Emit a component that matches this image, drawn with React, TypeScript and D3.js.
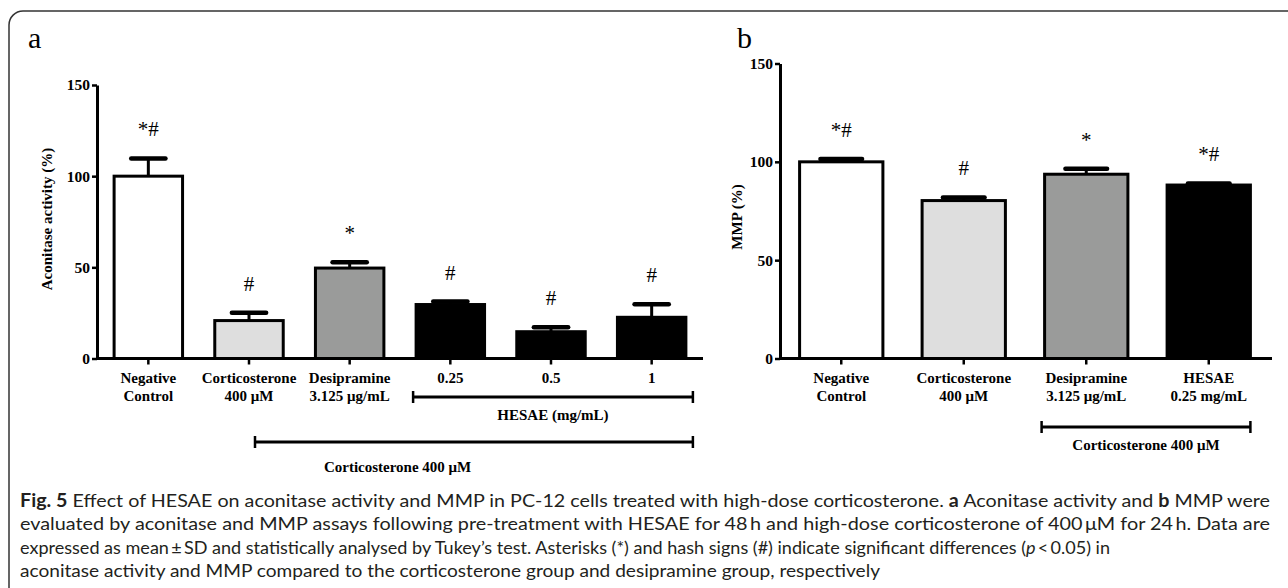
import React, { useEffect, useRef } from 'react';
import * as d3 from 'd3';

// panel a: aconitase activity
const aLabels = [['Negative', 'Control'], ['Corticosterone', '400 μM'], ['Desipramine', '3.125 μg/mL'], ['0.25'], ['0.5'], ['1']];
const aGroups = ['control', 'cort', 'desi', 'hesae', 'hesae', 'hesae'];
const aMeans = [100, 20.8, 49.6, 29.6, 14.7, 22.6];
const aSD = [9.7, 4.3, 3.2, 1.6, 2.4, 7.1];
const aSig = ['*#', '#', '*', '#', '#', '#'];

// panel b: MMP
const bLabels = [['Negative', 'Control'], ['Corticosterone', '400 μM'], ['Desipramine', '3.125 μg/mL'], ['HESAE', '0.25 mg/mL']];
const bGroups = ['control', 'cort', 'desi', 'hesae'];
const bMeans = [100, 80.3, 93.7, 88.2];
const bSD = [1.5, 1.6, 2.8, 0.8];
const bSig = ['*#', '#', '*', '*#'];

const yTicks = [0, 50, 100, 150];

const caption = [
  [{ t: 'Fig. 5', b: true }, { t: ' Effect of HESAE on aconitase activity and MMP in PC-12 cells treated with high-dose corticosterone. ' }, { t: 'a', b: true }, { t: ' Aconitase activity and ' }, { t: 'b', b: true }, { t: ' MMP were' }],
  [{ t: 'evaluated by aconitase and MMP assays following pre-treatment with HESAE for 48\u2009h and high-dose corticosterone of 400\u2009μM for 24\u2009h. Data are' }],
  [{ t: 'expressed as mean\u2009±\u2009SD and statistically analysed by Tukey’s test. Asterisks (*) and hash signs (#) indicate significant differences (' }, { t: 'p', i: true }, { t: '\u2009<\u20090.05) in' }],
  [{ t: 'aconitase activity and MMP compared to the corticosterone group and desipramine group, respectively' }],
];
const captionWidths = [1250, 1250, 1090, 860];

const serif = '"Liberation Serif", "Times New Roman", serif';
const sans = 'Lato, "Open Sans", sans-serif';

const fill = d3.scaleOrdinal<string, string>()
  .domain(['control', 'cort', 'desi', 'hesae'])
  .range(['#ffffff', '#dedede', '#9a9b9a', '#000000']);

function drawPanel(g, opts) {
  const { labels, groups, means, sds, sig, xRange, axisEnd, yRange, yAxisX } = opts;
  const cats = labels.map(l => l.join(' '));
  const x = d3.scaleBand().domain(cats).range(xRange).paddingInner(0.32).paddingOuter(0.16);
  const y = d3.scaleLinear().domain([0, 150]).range(yRange);
  const bw = x.bandwidth();

  g.selectAll('*').remove();

  // bars
  g.selectAll('.bar').data(cats).enter().append('rect')
    .attr('x', d => x(d))
    .attr('y', (d, i) => y(means[i]))
    .attr('width', bw)
    .attr('height', (d, i) => y(0) - y(means[i]))
    .attr('fill', (d, i) => fill(groups[i]))
    .attr('stroke', '#000')
    .attr('stroke-width', 3);

  // error bars (upper only)
  g.selectAll('.err').data(cats).enter().append('line')
    .attr('x1', d => x(d) + bw / 2).attr('x2', d => x(d) + bw / 2)
    .attr('y1', (d, i) => y(means[i]))
    .attr('y2', (d, i) => y(means[i] + sds[i]))
    .attr('stroke', '#000').attr('stroke-width', 3);
  g.selectAll('.cap').data(cats).enter().append('line')
    .attr('x1', d => x(d) + bw / 4).attr('x2', d => x(d) + bw * 3 / 4)
    .attr('y1', (d, i) => y(means[i] + sds[i]))
    .attr('y2', (d, i) => y(means[i] + sds[i]))
    .attr('stroke', '#000').attr('stroke-width', 4.5).attr('stroke-linecap', 'round');

  // significance marks
  g.selectAll('.sig').data(cats).enter().append('text')
    .attr('x', d => x(d) + bw / 2)
    .attr('y', (d, i) => y(means[i] + sds[i]) - 22)
    .attr('text-anchor', 'middle')
    .attr('font-family', serif)
    .attr('font-size', 21)
    .text((d, i) => sig[i]);

  // x axis
  const base = y(0);
  g.append('line')
    .attr('x1', yAxisX).attr('x2', axisEnd).attr('y1', base).attr('y2', base)
    .attr('stroke', '#000').attr('stroke-width', 3);
  const xa = g.append('g').attr('transform', `translate(0,${base})`)
    .call(d3.axisBottom(x).tickSize(6).tickSizeOuter(0).tickFormat(() => ''));
  xa.select('.domain').remove();
  xa.selectAll('.tick line').attr('stroke-width', 2.5);

  // x labels
  cats.forEach((c, i) => {
    labels[i].forEach((line, j) => {
      g.append('text')
        .attr('x', x(c) + bw / 2)
        .attr('y', base + 24 + j * 18)
        .attr('text-anchor', 'middle')
        .attr('font-family', serif)
        .attr('font-weight', 'bold')
        .attr('font-size', 15)
        .text(line);
    });
  });

  // y axis
  const ya = g.append('g').attr('transform', `translate(${yAxisX},0)`)
    .call(d3.axisLeft(y).tickValues(yTicks).tickSize(5).tickSizeOuter(0).tickPadding(2));
  ya.select('.domain').attr('stroke-width', 3);
  ya.selectAll('.tick line').attr('stroke-width', 2.5);
  ya.selectAll('.tick text')
    .attr('font-family', serif).attr('font-weight', 'bold').attr('font-size', 15.5).attr('fill', '#000');

  return { x, y, bw };
}

function bracket(g, x1, x2, yy, label, lx, ly) {
  g.append('line').attr('x1', x1).attr('x2', x2).attr('y1', yy).attr('y2', yy)
    .attr('stroke', '#000').attr('stroke-width', 3);
  [x1, x2].forEach(xx => g.append('line')
    .attr('x1', xx).attr('x2', xx).attr('y1', yy - 6).attr('y2', yy + 6)
    .attr('stroke', '#000').attr('stroke-width', 2.5));
  g.append('text').attr('x', lx).attr('y', ly)
    .attr('text-anchor', 'middle')
    .attr('font-family', serif).attr('font-weight', 'bold').attr('font-size', 15)
    .text(label);
}

const App = () => {
  const aRef = useRef();
  const bRef = useRef();

  useEffect(() => {
    const ga = d3.select(aRef.current);
    const a = drawPanel(ga, {
      labels: aLabels, groups: aGroups, means: aMeans, sds: aSD, sig: aSig,
      xRange: [98, 702], axisEnd: 703, yRange: [358.5, 85], yAxisX: 97,
    });
    const ac = aLabels.map(l => l.join(' '));
    const hStart = a.x(ac[3]) - 3;
    const end = a.x(ac[5]) + a.bw + 7;
    bracket(ga, hStart, end, 397, 'HESAE (mg/mL)', (hStart + end) / 2, 420);
    const cStart = a.x(ac[1]) + a.bw / 2 + 6;
    bracket(ga, cStart, end, 442, 'Corticosterone 400 μM', a.x(ac[2]) + a.bw * 1.2, 472);

    const gb = d3.select(bRef.current);
    const b = drawPanel(gb, {
      labels: bLabels, groups: bGroups, means: bMeans, sds: bSD, sig: bSig,
      xRange: [780, 1270], axisEnd: 1272, yRange: [358.5, 63.5], yAxisX: 780,
    });
    const bc = bLabels.map(l => l.join(' '));
    const s = b.x(bc[2]) - 3;
    const e = b.x(bc[3]) + b.bw;
    bracket(gb, s, e, 427, 'Corticosterone 400 μM', (s + e) / 2, 450);
  }, []);

  return (
    <svg width={1288} height={588} style={{ position: 'absolute', left: 0, top: 0, background: '#fff' }}>
      <rect x={9} y={11} width={1300} height={620} rx={14} fill="none" stroke="#333" strokeWidth={1.5} />
      <text x={28} y={48} fontFamily={serif} fontSize={30}>a</text>
      <text x={737} y={48} fontFamily={serif} fontSize={30}>b</text>
      <text transform="translate(52,219) rotate(-90)" textAnchor="middle" fontFamily={serif} fontWeight="bold" fontSize={15}>Aconitase activity (%)</text>
      <text transform="translate(742,217) rotate(-90)" textAnchor="middle" fontFamily={serif} fontWeight="bold" fontSize={15}>MMP (%)</text>
      <g ref={aRef} />
      <g ref={bRef} />
      {caption.map((line, i) => (
        <text key={i} x={20} y={507 + i * 23.3} fontFamily={sans} fontSize={18} fill="#231f20"
          textLength={captionWidths[i]} lengthAdjust="spacingAndGlyphs">
          {line.map((p, j) => (
            <tspan key={j} fontWeight={p.b ? 'bold' : 'normal'} fontStyle={p.i ? 'italic' : 'normal'}>{p.t}</tspan>
          ))}
        </text>
      ))}
    </svg>
  );
};

export default App;
